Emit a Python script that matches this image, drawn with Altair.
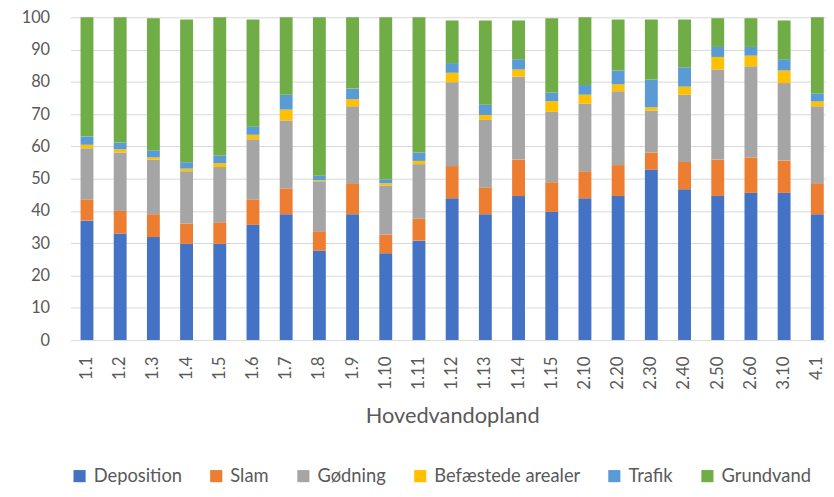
import altair as alt
import pandas as pd

categories = ["1.1", "1.2", "1.3", "1.4", "1.5", "1.6", "1.7", "1.8", "1.9", "1.10",
              "1.11", "1.12", "1.13", "1.14", "1.15", "2.10", "2.20", "2.30", "2.40",
              "2.50", "2.60", "3.10", "4.1"]
series = ["Deposition", "Slam", "Gødning", "Befæstede arealer", "Trafik", "Grundvand"]
colors = ["#4472C4", "#ED7D31", "#A5A5A5", "#FFC000", "#5B9BD5", "#70AD47"]

deposition = [37.0, 33.0, 31.9, 29.8, 29.8, 35.7, 39.0, 27.7, 39.0, 26.9, 30.8, 43.9,
              39.0, 44.6, 39.7, 43.9, 44.6, 52.8, 46.7, 44.6, 45.6, 45.6, 39.0]
slam = [6.6, 7.0, 7.1, 6.3, 6.7, 7.9, 8.0, 6.0, 9.6, 5.8, 6.8, 10.0,
        8.3, 11.3, 9.2, 8.4, 9.6, 5.3, 8.5, 11.3, 11.0, 10.0, 9.6]
godning = [15.8, 18.1, 16.9, 16.2, 17.1, 18.6, 21.0, 15.5, 23.8, 15.2, 16.9, 26.0,
           20.9, 25.7, 21.8, 20.9, 22.9, 13.0, 20.8, 27.9, 28.2, 24.0, 23.8]
befaestede = [1.1, 1.0, 0.7, 0.8, 1.2, 1.4, 3.4, 0.3, 2.2, 0.7, 1.0, 2.9,
              1.5, 2.2, 3.3, 2.8, 2.1, 1.0, 2.5, 3.9, 3.3, 3.9, 1.5]
trafik = [2.6, 2.1, 2.2, 2.0, 2.4, 2.5, 4.6, 1.4, 3.3, 1.2, 2.6, 3.0,
          3.2, 3.2, 2.7, 3.0, 4.3, 8.6, 6.0, 3.1, 2.7, 3.5, 2.5]
grundvand = [36.9, 38.8, 40.9, 44.2, 42.8, 33.2, 24.0, 49.1, 22.1, 50.2, 41.9, 13.2,
             26.1, 12.0, 23.0, 21.0, 15.8, 18.6, 14.8, 8.9, 8.9, 12.0, 23.6]
y_ticks = [0, 10, 20, 30, 40, 50, 60, 70, 80, 90, 100]

values = [deposition, slam, godning, befaestede, trafik, grundvand]
rows = []
for si, (name, vals) in enumerate(zip(series, values)):
    for c, v in zip(categories, vals):
        rows.append({"cat": c, "series": name, "value": v, "idx": si})
df = pd.DataFrame(rows)

FONT = "Lato"
TXT = "#595959"

chart = alt.Chart(df).mark_bar(size=13).encode(
    x=alt.X("cat:N", sort=categories,
            scale=alt.Scale(range=[0, 771]),
            axis=alt.Axis(title="Hovedvandopland", labelAngle=-90, labelFontSize=17,
                          labelFont=FONT, labelColor=TXT, labelPadding=16,
                          ticks=False, tickSize=0, domain=False, grid=False,
                          titleFont=FONT, titleFontSize=22, titleFontWeight="normal",
                          titleColor=TXT, titlePadding=17)),
    y=alt.Y("value:Q", stack="zero",
            scale=alt.Scale(domain=[0, 100], nice=False),
            axis=alt.Axis(title=None, values=y_ticks, labelFontSize=16.5, labelFont=FONT,
                          labelColor=TXT, labelPadding=21, ticks=False, tickSize=0,
                          domain=False, gridColor="#D9D9D9", gridWidth=1)),
    color=alt.Color("series:N", sort=series,
                    scale=alt.Scale(domain=series, range=colors),
                    legend=alt.Legend(title=None, orient="none", direction="horizontal",
                                      legendX=0, legendY=454, symbolType="square",
                                      symbolSize=150, symbolStrokeWidth=0,
                                      labelFont=FONT, labelFontSize=18.5, labelColor=TXT,
                                      labelOffset=5, columnPadding=25, padding=0,
                                      columns=6)),
    order=alt.Order("idx:Q", sort="ascending"),
).properties(
    width=763, height=326,
    autosize=alt.AutoSizeParams(type="none"),
    padding={"left": 63, "top": 7, "right": 0, "bottom": 144},
).configure_view(stroke=None)

chart.save("out.html", embed_options={"renderer": "svg", "actions": False})
